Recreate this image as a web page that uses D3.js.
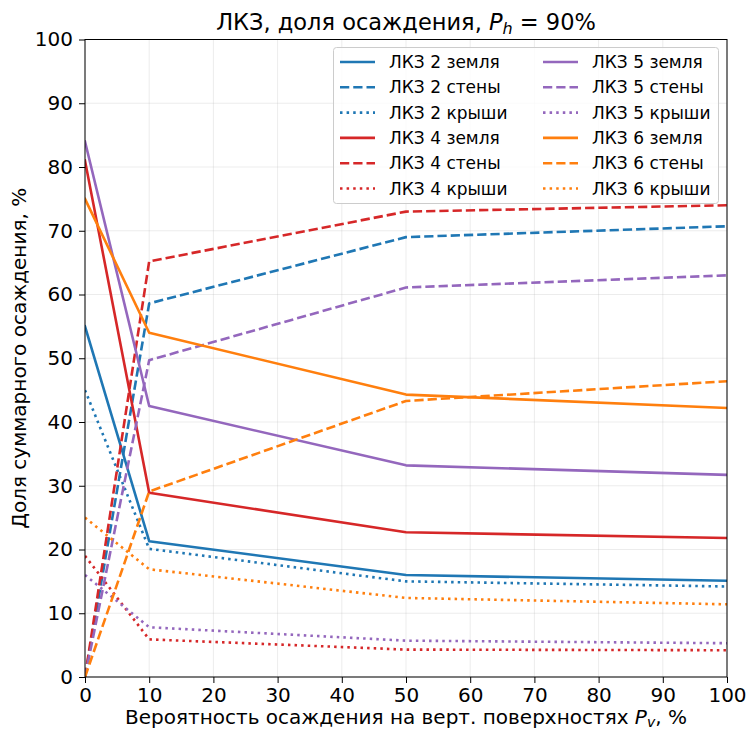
<!DOCTYPE html>
<html><head><meta charset="utf-8">
<script src="https://cdn.jsdelivr.net/npm/d3@7"></script>
<style>body{margin:0;background:#fff}svg{display:block}text{font-family:"DejaVu Sans",sans-serif}</style>
</head><body>
<svg id="c" width="749" height="732"></svg>
<script>
const xVals = [0, 10, 50, 100];
const xTicks = [0,10,20,30,40,50,60,70,80,90,100];
const yTicks = [0,10,20,30,40,50,60,70,80,90,100];

const lkz2_ground = [55.0, 21.3, 16.0, 15.1];
const lkz2_walls  = [0.0, 58.6, 69.0, 70.7];
const lkz2_roofs  = [45.0, 20.1, 15.0, 14.2];
const lkz4_ground = [81.0, 28.9, 22.7, 21.8];
const lkz4_walls  = [0.0, 65.2, 73.0, 74.0];
const lkz4_roofs  = [19.0, 5.9, 4.3, 4.2];
const lkz5_ground = [84.0, 42.5, 33.2, 31.7];
const lkz5_walls  = [0.0, 49.7, 61.1, 63.0];
const lkz5_roofs  = [16.0, 7.8, 5.7, 5.3];
const lkz6_ground = [75.0, 54.0, 44.3, 42.2];
const lkz6_walls  = [0.0, 29.1, 43.3, 46.4];
const lkz6_roofs  = [25.0, 16.9, 12.4, 11.4];

const seriesNames = ["ЛКЗ 2 земля","ЛКЗ 2 стены","ЛКЗ 2 крыши","ЛКЗ 4 земля","ЛКЗ 4 стены","ЛКЗ 4 крыши",
                     "ЛКЗ 5 земля","ЛКЗ 5 стены","ЛКЗ 5 крыши","ЛКЗ 6 земля","ЛКЗ 6 стены","ЛКЗ 6 крыши"];
const seriesData = [lkz2_ground,lkz2_walls,lkz2_roofs,lkz4_ground,lkz4_walls,lkz4_roofs,
                    lkz5_ground,lkz5_walls,lkz5_roofs,lkz6_ground,lkz6_walls,lkz6_roofs];
const colors = ["#1f77b4","#d62728","#9467bd","#ff7f0e"];
const dashes = [null, "9.25,4", "2.5,4.1"];

const svg = d3.select("#c");
const L = 85, R = 727, T = 39.5, B = 677;
const x = d3.scaleLinear().domain([0,100]).range([L,R]);
const y = d3.scaleLinear().domain([0,100]).range([B,T]);

// grid
const g = svg.append("g");
g.selectAll(".gx").data(xTicks).join("line").attr("x1",d=>x(d)).attr("x2",d=>x(d)).attr("y1",T).attr("y2",B)
  .attr("stroke","#b0b0b0").attr("stroke-opacity",0.3).attr("stroke-width",0.8);
g.selectAll(".gy").data(yTicks).join("line").attr("y1",d=>y(d)).attr("y2",d=>y(d)).attr("x1",L).attr("x2",R)
  .attr("stroke","#b0b0b0").attr("stroke-opacity",0.3).attr("stroke-width",0.8);

svg.append("clipPath").attr("id","clip").append("rect").attr("x",L).attr("y",T).attr("width",R-L).attr("height",B-T);

const line = d3.line().x((d,i)=>x(xVals[i])).y(d=>y(d));
const lg = svg.append("g").attr("clip-path","url(#clip)");
seriesData.forEach((s,i)=>{
  const c = colors[Math.floor(i/3)], da = dashes[i%3];
  lg.append("path").datum(s).attr("d",line).attr("fill","none").attr("stroke",c)
    .attr("stroke-width",2.6).attr("stroke-dasharray",da).attr("stroke-linejoin","round")
    .attr("stroke-linecap", da==null ? "square" : "butt");
});

// axes
const xa = svg.append("g").attr("transform",`translate(0,${B})`).call(d3.axisBottom(x).tickValues(xTicks).tickSize(6).tickPadding(5).tickFormat(d3.format("d")));
const ya = svg.append("g").attr("transform",`translate(${L},0)`).call(d3.axisLeft(y).tickValues(yTicks).tickSize(6).tickPadding(6).tickFormat(d3.format("d")));
[xa,ya].forEach(a=>{a.select(".domain").remove();a.selectAll("text").attr("font-size",20).attr("fill","#000").attr("font-family","DejaVu Sans");a.selectAll("line").attr("stroke","#000").attr("stroke-width",1);});
svg.append("rect").attr("x",L).attr("y",T).attr("width",R-L).attr("height",B-T).attr("fill","none").attr("stroke","#000").attr("stroke-width",1);

// title
const tt = svg.append("text").attr("x",(L+R)/2).attr("y",30).attr("text-anchor","middle").attr("font-size",22.5);
tt.append("tspan").text("ЛКЗ, доля осаждения, ");
tt.append("tspan").attr("font-style","italic").text("P");
tt.append("tspan").attr("font-style","italic").attr("font-size",16).attr("dy",4).text("h");
tt.append("tspan").attr("dy",-4).text(" = 90%");

// x label
const xl = svg.append("text").attr("x",(L+R)/2).attr("y",724).attr("text-anchor","middle").attr("font-size",20);
xl.append("tspan").text("Вероятность осаждения на верт. поверхностях ");
xl.append("tspan").attr("font-style","italic").text("P");
xl.append("tspan").attr("font-style","italic").attr("font-size",14).attr("dy",3).text("v");
xl.append("tspan").attr("dy",-3).text(", %");

// y label
svg.append("text").attr("transform",`translate(26,${(T+B)/2}) rotate(-90)`).attr("text-anchor","middle").attr("font-size",20)
  .text("Доля суммарного осаждения, %");

// legend
const lgd = svg.append("g");
lgd.append("rect").attr("x",333.5).attr("y",47.5).attr("width",385).attr("height",156).attr("rx",3)
  .attr("fill","#fff").attr("fill-opacity",0.8).attr("stroke","#ccc").attr("stroke-width",1);
seriesNames.forEach((n,i)=>{
  const col = Math.floor(i/6), row = i%6;
  const hx = col===0 ? 340 : 543;
  const yy = 62 + row*25.3;
  const c = colors[Math.floor(i/3)], da = dashes[i%3];
  lgd.append("line").attr("x1",hx).attr("x2",hx+35).attr("y1",yy).attr("y2",yy).attr("stroke",c).attr("stroke-width",2.6).attr("stroke-dasharray",da);
  lgd.append("text").attr("x",hx+49).attr("y",yy+6).attr("font-size",17).text(n);
});
</script>
</body></html>
